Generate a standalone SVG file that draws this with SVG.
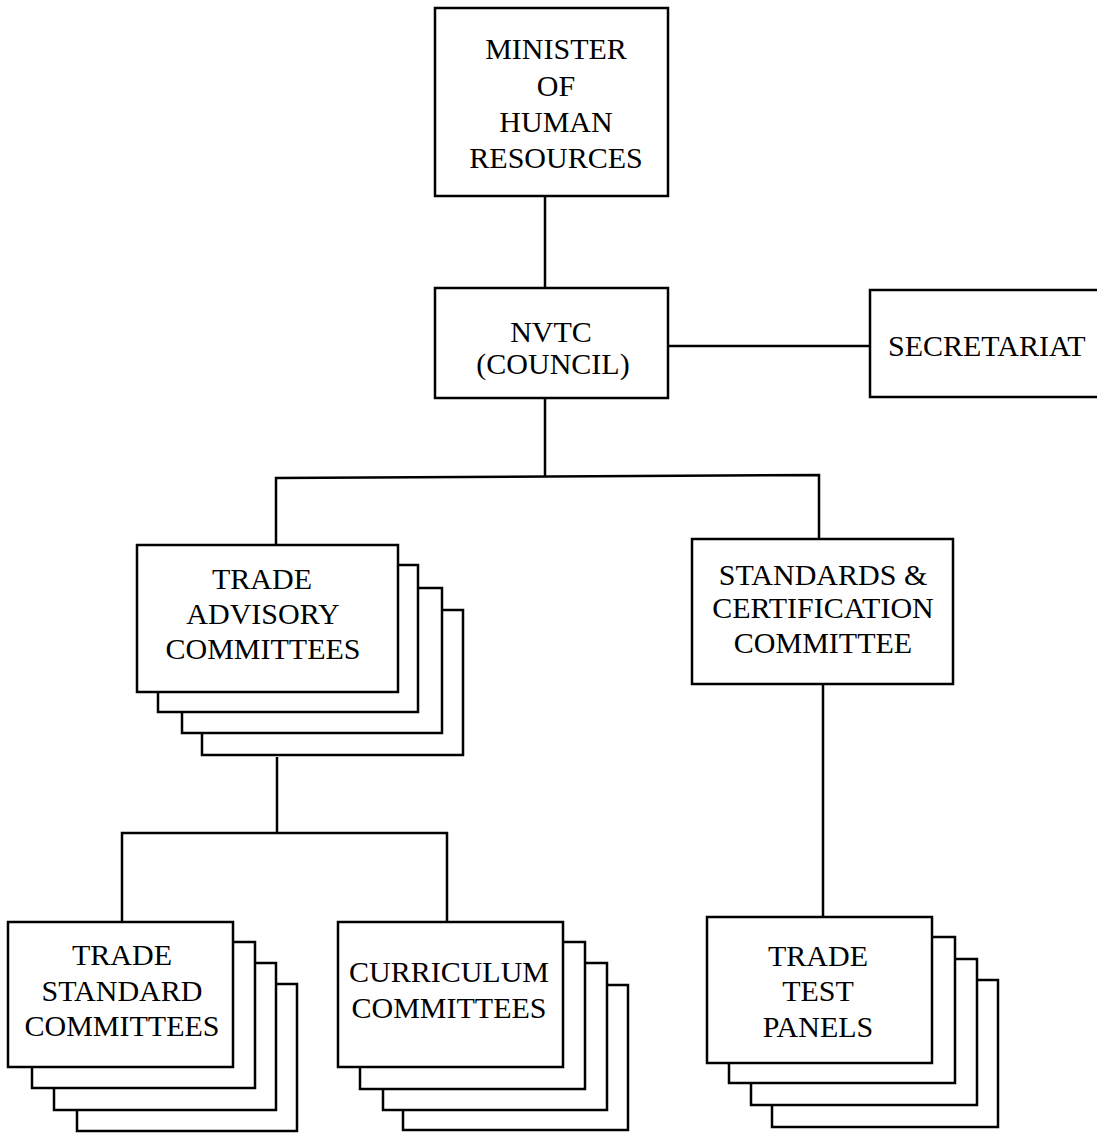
<svg xmlns="http://www.w3.org/2000/svg" width="1097" height="1134" viewBox="0 0 1097 1134">
<style>
.box{fill:#fff;stroke:#000;stroke-width:2.5}
.ln{fill:none;stroke:#000;stroke-width:2.5}
text{font-family:"Liberation Serif","Times New Roman",serif;font-size:30px;fill:#000;text-anchor:middle}
</style>
<rect width="1097" height="1134" fill="#fff"/>
<g id="connectors">
<line class="ln" x1="545" y1="196" x2="545" y2="288"/>
<line class="ln" x1="668" y1="346" x2="870" y2="346"/>
<line class="ln" x1="545" y1="398" x2="545" y2="477"/>
<polyline class="ln" points="276,545 276,478 819,475 819,539"/>
<line class="ln" x1="277" y1="757" x2="277" y2="833"/>
<polyline class="ln" points="122,922 122,833 447,833 447,922"/>
<line class="ln" x1="823" y1="684" x2="823" y2="917"/>
</g>
<g id="minister">
<rect class="box" x="435" y="8" width="233" height="188"/>
<text x="556" y="59">MINISTER</text>
<text x="556" y="96">OF</text>
<text x="556" y="132">HUMAN</text>
<text x="556" y="168">RESOURCES</text>
</g>
<g id="nvtc">
<rect class="box" x="435" y="288" width="233" height="110"/>
<text x="551" y="342">NVTC</text>
<text x="553" y="374">(COUNCIL)</text>
</g>
<g id="secretariat">
<rect class="box" x="870" y="290" width="250" height="107"/>
<text x="888" y="356" style="text-anchor:start">SECRETARIAT</text>
</g>
<g id="trade-advisory">
<rect class="box" x="202" y="610" width="261" height="145"/>
<rect class="box" x="182" y="588" width="260" height="145"/>
<rect class="box" x="158" y="565" width="260" height="147"/>
<rect class="box" x="137" y="545" width="261" height="147"/>
<text x="262" y="589">TRADE</text>
<text x="263" y="624">ADVISORY</text>
<text x="263" y="659">COMMITTEES</text>
</g>
<g id="standards">
<rect class="box" x="692" y="539" width="261" height="145"/>
<text x="823" y="585">STANDARDS &amp;</text>
<text x="823" y="618">CERTIFICATION</text>
<text x="823" y="653">COMMITTEE</text>
</g>
<g id="trade-standard">
<rect class="box" x="77" y="984" width="220" height="147"/>
<rect class="box" x="54" y="963" width="222" height="147"/>
<rect class="box" x="32" y="942" width="223" height="146"/>
<rect class="box" x="8" y="922" width="225" height="145"/>
<text x="122" y="965">TRADE</text>
<text x="122" y="1001">STANDARD</text>
<text x="122" y="1036">COMMITTEES</text>
</g>
<g id="curriculum">
<rect class="box" x="403" y="985" width="225" height="145"/>
<rect class="box" x="383" y="963" width="224" height="147"/>
<rect class="box" x="360" y="942" width="225" height="147"/>
<rect class="box" x="338" y="922" width="225" height="145"/>
<text x="449" y="982">CURRICULUM</text>
<text x="449" y="1018">COMMITTEES</text>
</g>
<g id="trade-test">
<rect class="box" x="772" y="980" width="226" height="147"/>
<rect class="box" x="751" y="959" width="226" height="146"/>
<rect class="box" x="729" y="937" width="226" height="146"/>
<rect class="box" x="707" y="917" width="225" height="146"/>
<text x="818" y="966">TRADE</text>
<text x="818" y="1001">TEST</text>
<text x="818" y="1037">PANELS</text>
</g>
</svg>
